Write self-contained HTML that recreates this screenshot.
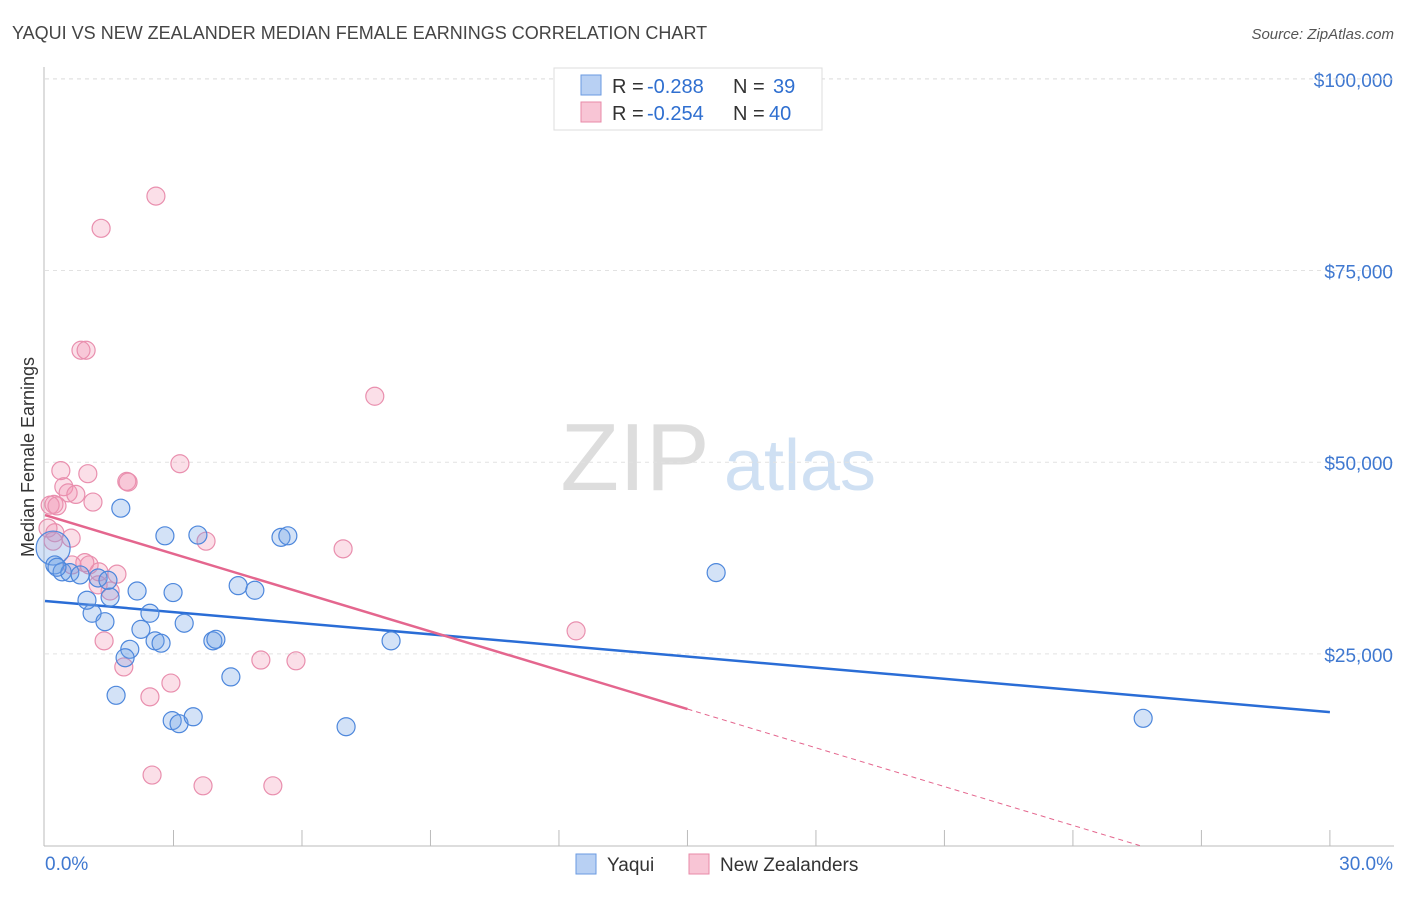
<!DOCTYPE html>
<html><head><meta charset="utf-8"><style>
body{margin:0;background:#fff;font-family:"Liberation Sans",sans-serif;}
svg text{font-family:"Liberation Sans",sans-serif;}
</style></head><body>
<svg id="chart" width="1406" height="892" xmlns="http://www.w3.org/2000/svg">
<text x="12" y="39" font-size="18" fill="#444">YAQUI VS NEW ZEALANDER MEDIAN FEMALE EARNINGS CORRELATION CHART</text>
<text x="1394" y="39" font-size="15" fill="#555" text-anchor="end" font-style="italic">Source: ZipAtlas.com</text>
<text transform="translate(34,457) rotate(-90)" font-size="18" fill="#333" text-anchor="middle">Median Female Earnings</text>
<g>
<text x="635" y="490" font-size="96" fill="#ddd" text-anchor="middle" font-family="Liberation Serif,serif">ZIP</text>
<text x="800" y="490" font-size="72" fill="#cfe0f3" text-anchor="middle">atlas</text>
</g>
<g id="grid"></g><g id="axes"></g><g id="trend"></g><g id="points"></g>
<g>
<rect x="554" y="68" width="268" height="62" fill="#fff" stroke="#ddd"/>
<rect x="581" y="75" width="20" height="20" fill="#b8d0f3" stroke="#6a9ae0"/>
<text x="612" y="93" font-size="20" fill="#333">R =</text>
<text x="647" y="93" font-size="20" fill="#2f6fd0">-0.288</text>
<text x="733" y="93" font-size="20" fill="#333">N =</text>
<text x="773" y="93" font-size="20" fill="#2f6fd0">39</text>
<rect x="581" y="102" width="20" height="20" fill="#f8c5d5" stroke="#e88aa8"/>
<text x="612" y="120" font-size="20" fill="#333">R =</text>
<text x="647" y="120" font-size="20" fill="#2f6fd0">-0.254</text>
<text x="733" y="120" font-size="20" fill="#333">N =</text>
<text x="769" y="120" font-size="20" fill="#2f6fd0">40</text>
</g>
<g>
<rect x="576" y="854" width="20" height="20" fill="#b8d0f3" stroke="#6a9ae0"/>
<text x="607" y="871" font-size="19" fill="#333">Yaqui</text>
<rect x="689" y="854" width="20" height="20" fill="#f8c5d5" stroke="#e88aa8"/>
<text x="720" y="871" font-size="19" fill="#333">New Zealanders</text>
</g>
</svg>
<script>
const yTicks=[25000,50000,75000,100000];
const yTickLabels=["$25,000","$50,000","$75,000","$100,000"];
const xEndLabels=["0.0%","30.0%"];
const yaquiX=[1.77,2.80,3.57,5.51,5.67,15.67,2.15,2.99,4.51,4.90,2.45,3.25,1.10,1.40,2.24,2.57,2.71,3.92,3.99,8.08,0.98,1.52,1.98,1.87,4.34,1.66,2.97,3.13,3.46,7.03,25.64,0.19,0.23,0.40,0.58,0.82,1.24,1.47,0.28];
const yaquiY=[44.0,40.4,40.5,40.2,40.4,35.6,33.2,33.0,33.9,33.3,30.3,29.0,30.3,29.2,28.2,26.7,26.4,26.7,26.9,26.7,32.0,32.4,25.6,24.5,22.0,19.6,16.3,15.9,16.8,15.5,16.6,38.8,36.6,35.7,35.6,35.3,34.9,34.6,36.3];
const nzX=[2.59,1.31,0.84,0.96,7.70,3.15,0.37,1.00,0.44,0.54,0.72,1.12,0.21,1.91,1.94,3.76,6.96,0.61,0.23,0.63,1.03,1.26,1.68,1.24,1.38,12.40,5.04,5.86,2.45,1.84,2.94,2.50,3.69,5.32,0.12,0.28,1.52,0.07,0.19,0.93];
const nzY=[84.7,80.5,64.6,64.6,58.6,49.8,48.9,48.5,46.8,46.0,45.8,44.8,44.5,47.5,47.4,39.7,38.7,40.1,40.8,36.6,36.6,35.7,35.4,34.0,26.7,28.0,24.2,24.1,19.4,23.3,21.2,9.2,7.8,7.8,44.4,44.3,33.2,41.4,39.7,36.9];
const yaquiTrend=[31.9,17.4];
const nzTrend=[43.1,-1.686];
const NS="http://www.w3.org/2000/svg";
const xs=v=>45+v*42.83;
const ys=v=>845.6-v/25000*191.7;
const ysk=v=>ys(v*1000);
function mk(p,tag,a){const e=document.createElementNS(NS,tag);for(const k in a)e.setAttribute(k,a[k]);p.appendChild(e);return e;}
const grid=document.getElementById('grid'),axes=document.getElementById('axes'),trend=document.getElementById('trend'),pts=document.getElementById('points');
yTicks.forEach((t,i)=>{
 const l=mk(grid,'line',{x1:45,x2:1394,y1:ys(t),y2:ys(t),stroke:'#e2e2e2','stroke-dasharray':'4,4'});
 
 
 const tx=mk(grid,'text',{x:1393,y:ys(t)+8,'font-size':19,fill:'#3f78d0','text-anchor':'end'});
 tx.textContent=yTickLabels[i];
 
 
});
const topLine=mk(grid,'line',{x1:45,x2:1394,y1:79,y2:79,stroke:'#e2e2e2','stroke-dasharray':'4,4'});


const ya=mk(axes,'line',{x1:44,x2:44,y1:67,y2:846,stroke:'#bbb'});


const xa=mk(axes,'line',{x1:44,x2:1394,y1:846,y2:846,stroke:'#bbb'});


for(let i=1;i<=10;i++){const t=mk(axes,'line',{x1:xs(i*3),x2:xs(i*3),y1:830,y2:846,stroke:'#bbb'});
 
 }
[0,30].forEach((v,i)=>{const t=mk(axes,'text',{x:i?1393:45,y:870,'font-size':19,fill:'#3f78d0','text-anchor':i?'end':'start'});
 t.textContent=xEndLabels[i];
 
 });
const bl=mk(trend,'line',{x1:xs(0),y1:ysk(yaquiTrend[0]),x2:xs(30),y2:ysk(yaquiTrend[1]),stroke:'#2a6dd6','stroke-width':2.5});


const nzAt=x=>nzTrend[0]+nzTrend[1]*x;
const pl=mk(trend,'line',{x1:xs(0),y1:ysk(nzAt(0)),x2:xs(15),y2:ysk(nzAt(15)),stroke:'#e4668e','stroke-width':2.5});


const xz=-nzTrend[0]/nzTrend[1];
const pd=mk(trend,'line',{x1:xs(15),y1:ysk(nzAt(15)),x2:xs(xz),y2:ysk(0),stroke:'#e4668e','stroke-width':1,'stroke-dasharray':'5,4'});


nzX.forEach((x,i)=>{const c=mk(pts,'circle',{cx:xs(x),cy:ysk(nzY[i]),r:9,fill:'rgba(242,150,180,0.3)',stroke:'#e98fae','stroke-width':1.2});
 
 });
yaquiX.forEach((x,i)=>{const c=mk(pts,'circle',{cx:xs(x),cy:ysk(yaquiY[i]),r:i===31?17:9,fill:'rgba(110,160,230,0.3)',stroke:'#4d87dc','stroke-width':1.2});
 
 });
</script>
</body></html>
